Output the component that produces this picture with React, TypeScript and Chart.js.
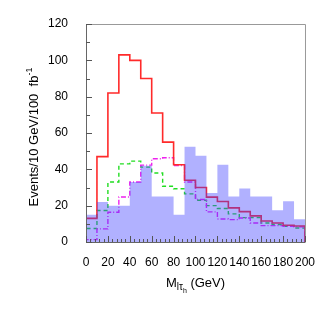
import React, { useEffect, useRef } from "react";
import { Chart, registerables } from "chart.js";

Chart.register(...registerables);

const binEdges = [0, 10, 20, 30, 40, 50, 60, 70, 80, 90, 100, 110, 120, 130, 140, 150, 160, 170, 180, 190, 200];
const bkgFilled = [15, 22, 20, 20, 33, 42, 25, 25, 15, 52.5, 47.5, 27, 42.5, 25, 29.5, 25, 25, 17.5, 22.5, 12.5];
const redSolid = [13, 47, 82, 103, 100, 90, 71, 55, 42.5, 34, 30, 24.7, 22.3, 18.8, 16.7, 14.4, 11.6, 10.5, 9.2, 8.8];
const greenDashed = [7.4, 17.3, 33, 43, 44.5, 41.2, 38, 30.7, 29.3, 26.5, 23, 20, 18.4, 15.5, 13.4, 13.4, 10.5, 9.6, 8.7, 7.7];
const magentaDashDot = [1.3, 7.2, 16.4, 24.8, 33, 42.3, 45.8, 46.4, 42.1, 33, 23.4, 16.6, 12.7, 12.3, 13.2, 10.5, 9, 9, 8.7, 8.3];
const yTicks = [0, 20, 40, 60, 80, 100, 120];
const xTicks = [0, 20, 40, 60, 80, 100, 120, 140, 160, 180, 200];

function toSteps(vals: number[]) {
  const pts: { x: number; y: number }[] = [{ x: binEdges[0], y: 0 }];
  vals.forEach((v, i) => pts.push({ x: binEdges[i], y: v }));
  pts.push({ x: binEdges[binEdges.length - 1], y: vals[vals.length - 1] });
  pts.push({ x: binEdges[binEdges.length - 1], y: 0 });
  return pts;
}

const FONT = "'Liberation Sans', Arial, Helvetica, sans-serif";

const decorPlugin = {
  id: "decor",
  afterDraw(chart: any) {
    const { ctx, chartArea: a, scales } = chart;
    const xs = scales.x;
    const ys = scales.y;
    ctx.save();
    // frame
    ctx.strokeStyle = "#999";
    ctx.lineWidth = 1;
    ctx.beginPath();
    ctx.moveTo(a.left, a.top + 0.5);
    ctx.lineTo(a.right + 0.5, a.top + 0.5);
    ctx.lineTo(a.right + 0.5, a.bottom);
    ctx.stroke();
    ctx.strokeStyle = "#666";
    ctx.beginPath();
    ctx.moveTo(a.left + 0.5, a.top);
    ctx.lineTo(a.left + 0.5, a.bottom + 0.5);
    ctx.lineTo(a.right + 0.5, a.bottom + 0.5);
    ctx.stroke();
    // inner ticks
    ctx.strokeStyle = "#555";
    ctx.beginPath();
    for (let v = 0; v <= 200; v += 4) {
      const px = Math.round(xs.getPixelForValue(v)) + 0.5;
      const len = v % 20 === 0 ? 6 : 3;
      ctx.moveTo(px, a.bottom);
      ctx.lineTo(px, a.bottom - len);
    }
    for (let v = 0; v <= 120; v += 10) {
      const py = Math.round(ys.getPixelForValue(v)) + 0.5;
      const len = v % 20 === 0 ? 6 : 4;
      ctx.moveTo(a.left, py);
      ctx.lineTo(a.left + len, py);
    }
    ctx.stroke();

    // x title: M_{l tau_h} (GeV)
    ctx.fillStyle = "#000";
    ctx.textBaseline = "alphabetic";
    ctx.textAlign = "left";
    const big = `13px ${FONT}`;
    const sub = `10px ${FONT}`;
    const sub2 = `7px ${FONT}`;
    const parts: [string, string, number][] = [
      ["M", big, 0],
      ["l\u03c4", sub, 3],
      ["h", sub2, 6],
      [" (GeV)", big, 0],
    ];
    let total = 0;
    parts.forEach(([t, f]) => {
      ctx.font = f;
      total += ctx.measureText(t).width;
    });
    let x = (a.left + a.right) / 2 - total / 2;
    const baseY = 287;
    parts.forEach(([t, f, dy]) => {
      ctx.font = f;
      ctx.fillText(t, x, baseY + dy);
      x += ctx.measureText(t).width;
    });

    // y title rotated
    ctx.translate(38, (a.top + a.bottom) / 2 + 4);
    ctx.rotate(-Math.PI / 2);
    const main = "Events/10 GeV/100  fb";
    const sup = "-1";
    ctx.font = big;
    const w1 = ctx.measureText(main).width;
    ctx.font = `9px ${FONT}`;
    const w2 = ctx.measureText(sup).width;
    const sx = -(w1 + w2) / 2;
    ctx.font = big;
    ctx.fillText(main, sx, 0);
    ctx.font = `9px ${FONT}`;
    ctx.fillText(sup, sx + w1, -6);
    ctx.restore();
  },
};

export default function App() {
  const ref = useRef<HTMLCanvasElement>(null);
  useEffect(() => {
    if (!ref.current) return;
    const common = { stepped: "before" as const, pointRadius: 0, tension: 0 };
    const chart = new Chart(ref.current, {
      type: "line",
      data: {
        datasets: [
          {
            ...common,
            data: toSteps(bkgFilled),
            borderWidth: 0,
            borderColor: "rgba(0,0,0,0)",
            backgroundColor: "rgba(60,60,255,0.4)",
            fill: "origin",
          },
          {
            ...common,
            data: toSteps(redSolid),
            borderColor: "#ff2a2a",
            borderWidth: 1.6,
            fill: false,
          },
          {
            ...common,
            data: toSteps(magentaDashDot),
            borderColor: "#ee22ee",
            borderWidth: 1.4,
            borderDash: [5, 2, 1, 2],
            fill: false,
          },
          {
            ...common,
            data: toSteps(greenDashed),
            borderColor: "#22dd22",
            borderWidth: 1.4,
            borderDash: [4, 3],
            fill: false,
          },
        ],
      },
      options: {
        animation: false,
        responsive: false,
        maintainAspectRatio: false,
        parsing: false as any,
        layout: { padding: { top: 24, right: 15, left: 0, bottom: 0 } },
        plugins: { legend: { display: false }, tooltip: { enabled: false } },
        scales: {
          x: {
            type: "linear",
            min: 0,
            max: 200,
            afterBuildTicks: (s: any) => {
              s.ticks = xTicks.map((v) => ({ value: v }));
            },
            afterFit: (s: any) => {
              s.height = 78;
            },
            grid: { display: false },
            border: { display: false },
            ticks: {
              font: { family: FONT, size: 12 },
              color: "#000",
              padding: 5,
              maxRotation: 0,
              autoSkip: false,
            },
          },
          y: {
            type: "linear",
            min: 0,
            max: 120,
            afterBuildTicks: (s: any) => {
              s.ticks = yTicks.map((v) => ({ value: v }));
            },
            afterFit: (s: any) => {
              s.width = 86;
            },
            grid: { display: false },
            border: { display: false },
            ticks: {
              font: { family: FONT, size: 12 },
              color: "#000",
              padding: 10,
            },
          },
        },
      },
      plugins: [decorPlugin],
    });
    return () => chart.destroy();
  }, []);
  return (
    <div style={{ position: "fixed", left: 0, top: 0, width: 320, height: 320, background: "#fff" }}>
      <canvas ref={ref} width={320} height={320} style={{ width: 320, height: 320 }} />
    </div>
  );
}
